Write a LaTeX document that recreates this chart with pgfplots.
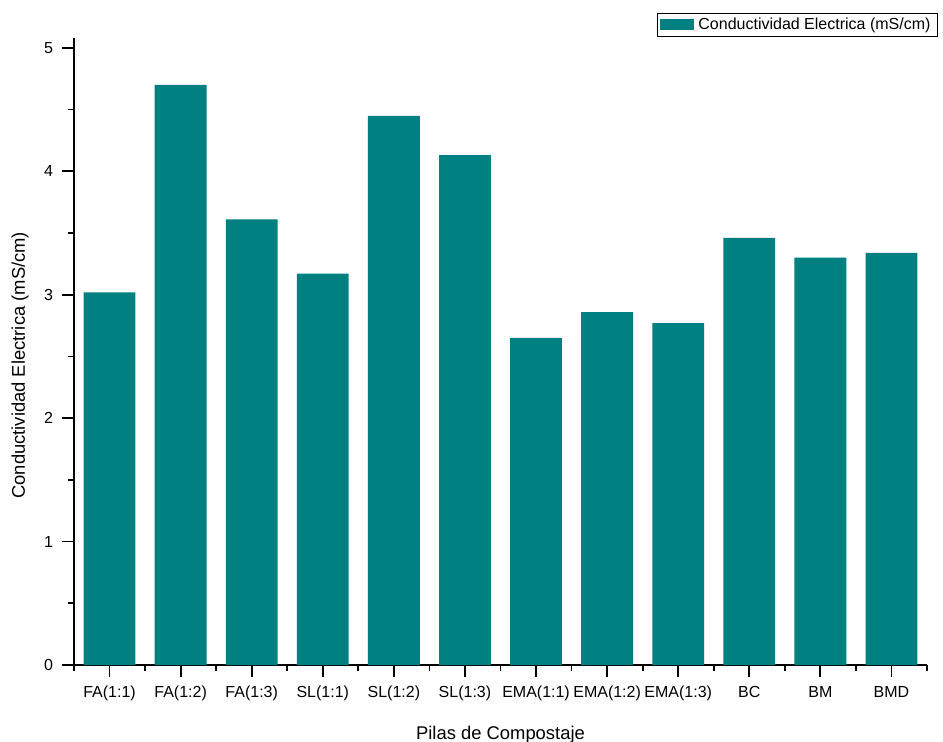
\documentclass[border=0pt]{standalone}
\usepackage{fontspec}
\setmainfont{Liberation Sans}
\usepackage{pgfplots}
\pgfplotsset{compat=1.18}
\definecolor{barcol}{RGB}{0,128,128}
\begin{document}
\begin{tikzpicture}
\begin{axis}[
  at={(37pt,-332.5pt)}, anchor=south west,
  scale only axis,
  width=426.5pt, height=313.5pt,
  xmin=0.5, xmax=12.5, ymin=0, ymax=5.08,
  axis lines*=left,
  axis line style={line width=0.9pt},
  tick align=outside,
  major tick length=6pt, minor tick length=3pt,
  every tick/.style={line width=0.9pt, black},
  xtick={1,...,12},
  xticklabels={FA(1:1),FA(1:2),FA(1:3),SL(1:1),SL(1:2),SL(1:3),EMA(1:1),EMA(1:2),EMA(1:3),BC,BM,BMD},
  minor xtick={0.5,1.5,...,12.5},
  ytick={0,1,2,3,4,5},
  minor ytick={0.5,1.5,...,4.5},
  /pgf/number format/assume math mode=true,
  tick label style={font=\fontsize{8}{9.6}\selectfont},
  xticklabel style={yshift=-1pt},
  yticklabel style={xshift=-1pt},
  xlabel={Pilas de Compostaje},
  ylabel={Conductividad Electrica (mS/cm)},
  label style={font=\fontsize{9.2}{11}\selectfont},
  xlabel style={at={(axis description cs:0.5,-0.111)}, anchor=center},
  ylabel style={at={(axis description cs:-0.0633,0.478)}, anchor=center},
  ybar, bar width=0.73, bar shift=0pt,
  legend style={at={(axis description cs:1.0129,1.0399)}, anchor=north east,
    draw=black, line width=0.5pt, font=\fontsize{8}{9.6}\selectfont,
    inner xsep=1.5pt, inner ysep=0pt},
  legend cell align=left,
]
\addplot[fill=barcol, draw=none,
  legend image code/.code={\fill[barcol] (2pt,-2.75pt) rectangle (19pt,2.75pt);}] coordinates {
(1,3.02) (2,4.70) (3,3.61) (4,3.17) (5,4.45) (6,4.13)
(7,2.65) (8,2.86) (9,2.77) (10,3.46) (11,3.30) (12,3.34)};
\addlegendentry{Conductividad Electrica (mS/cm)}
\end{axis}
\pgfresetboundingbox
\useasboundingbox (0pt,0pt) rectangle (471.5pt,-371pt);
\end{tikzpicture}
\end{document}
